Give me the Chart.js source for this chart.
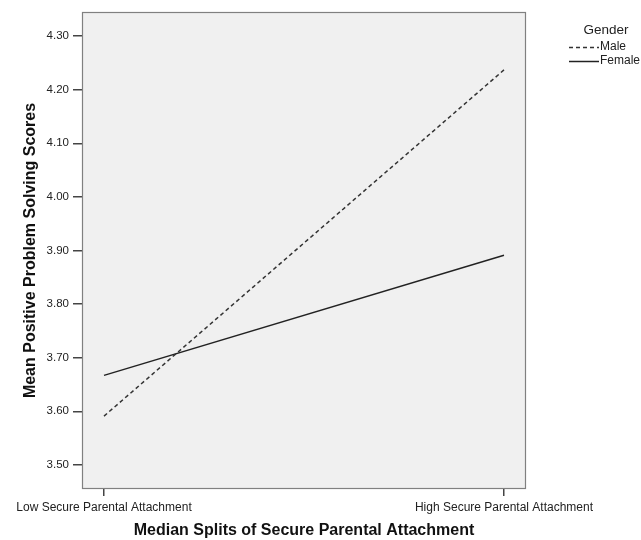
<!DOCTYPE html>
<html>
<head>
<meta charset="utf-8">
<script src="https://cdn.jsdelivr.net/npm/chart.js@4"></script>
<style>
  html, body { margin: 0; padding: 0; background: #fff; }
  #wrap { width: 641px; height: 540px; }
</style>
</head>
<body>
<div id="wrap"><canvas id="chart" width="641" height="540"></canvas></div>
<script>
// data
var categories = ["Low Secure Parental Attachment", "High Secure Parental Attachment"];
var maleScores = [3.591, 4.237];
var femaleScores = [3.667, 3.891];
var yTicks = [3.5, 3.6, 3.7, 3.8, 3.9, 4.0, 4.1, 4.2, 4.3];
var legendTitle = "Gender";
var seriesNames = ["Male", "Female"];

var fontFamily = "'Liberation Sans', Arial, sans-serif";

function toPoints(values) {
  return values.map(function (v, i) {
    return { x: i, y: v };
  });
}

// grey plot frame + background
var plotFrame = {
  id: "plotFrame",
  beforeDatasetsDraw: function (chart) {
    var a = chart.chartArea;
    var ctx = chart.ctx;
    ctx.save();
    ctx.fillStyle = "#f0f0f0";
    ctx.fillRect(a.left, a.top, a.right - a.left, a.bottom - a.top);
    ctx.restore();
  },
  afterDatasetsDraw: function (chart) {
    var a = chart.chartArea;
    var ctx = chart.ctx;
    ctx.save();
    ctx.strokeStyle = "#808080";
    ctx.lineWidth = 1.2;
    ctx.strokeRect(a.left + 0.5, a.top + 0.5, a.right - a.left - 1, a.bottom - a.top - 1);
    ctx.restore();
  },
};

// SPSS style legend on the right
var sideLegend = {
  id: "sideLegend",
  afterDraw: function (chart) {
    var ctx = chart.ctx;
    ctx.save();
    ctx.fillStyle = "#222";
    ctx.textBaseline = "middle";
    ctx.font = "13.5px " + fontFamily;
    ctx.textAlign = "center";
    ctx.fillText(legendTitle, 606, 30);
    ctx.font = "12px " + fontFamily;
    ctx.textAlign = "left";
    chart.data.datasets.forEach(function (ds, i) {
      var y = 47 + i * 14;
      ctx.beginPath();
      ctx.strokeStyle = ds.borderColor;
      ctx.lineWidth = ds.borderWidth;
      ctx.setLineDash(ds.borderDash || []);
      ctx.moveTo(569, y + 0.5);
      ctx.lineTo(599, y + 0.5);
      ctx.stroke();
      ctx.setLineDash([]);
      ctx.fillText(ds.label, 600, y);
    });
    ctx.restore();
  },
};

var ctx = document.getElementById("chart").getContext("2d");
var chart = new Chart(ctx, {
  type: "line",
  data: {
    datasets: [
      {
        label: seriesNames[0],
        data: toPoints(maleScores),
        borderColor: "#333",
        borderWidth: 1.5,
        borderDash: [4, 3],
        pointRadius: 0,
        fill: false,
      },
      {
        label: seriesNames[1],
        data: toPoints(femaleScores),
        borderColor: "#222",
        borderWidth: 1.5,
        pointRadius: 0,
        fill: false,
      },
    ],
  },
  options: {
    responsive: false,
    animation: false,
    layout: { padding: { left: 0, top: 12, right: 115, bottom: 0 } },
    plugins: {
      legend: { display: false },
      tooltip: { enabled: false },
    },
    scales: {
      x: {
        type: "linear",
        min: -0.055,
        max: 1.055,
        afterBuildTicks: function (scale) {
          scale.ticks = categories.map(function (c, i) {
            return { value: i };
          });
        },
        afterFit: function (scale) {
          scale.height = 51;
        },
        ticks: {
          autoSkip: false,
          maxRotation: 0,
          padding: 4,
          color: "#222",
          font: { family: fontFamily, size: 12 },
          callback: function (value) {
            return categories[value];
          },
        },
        grid: {
          drawOnChartArea: false,
          drawTicks: true,
          tickLength: 7,
          color: "#444",
          lineWidth: 1.5,
        },
        border: { display: false },
        title: {
          display: true,
          text: "Median Splits of Secure Parental Attachment",
          color: "#111",
          font: { family: fontFamily, size: 16, weight: "bold" },
          padding: { top: 0, bottom: 0 },
        },
      },
      y: {
        min: 3.455,
        max: 4.345,
        afterBuildTicks: function (scale) {
          scale.ticks = yTicks.map(function (v) {
            return { value: v };
          });
        },
        afterFit: function (scale) {
          scale.width = 82;
        },
        ticks: {
          padding: 4,
          color: "#222",
          font: { family: fontFamily, size: 11.5 },
          callback: function (value) {
            return Number(value).toFixed(2);
          },
        },
        grid: {
          drawOnChartArea: false,
          drawTicks: true,
          tickLength: 9,
          color: "#444",
          lineWidth: 1.5,
        },
        border: { display: false },
        title: {
          display: true,
          text: "Mean Positive Problem Solving Scores",
          color: "#111",
          font: { family: fontFamily, size: 16, weight: "bold" },
          padding: { top: 21, bottom: 0 },
        },
      },
    },
  },
  plugins: [plotFrame, sideLegend],
});
</script>
</body>
</html>
